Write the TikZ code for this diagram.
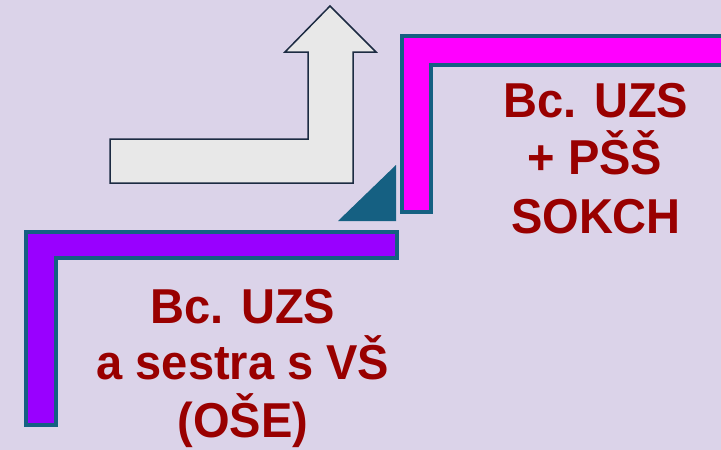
\documentclass[tikz,border=0pt]{standalone}
\usepackage{fontspec}
\setmainfont{Liberation Sans}
\definecolor{bg}{HTML}{DBD3E9}
\definecolor{edge}{HTML}{156082}
\definecolor{purp}{HTML}{9900FF}
\definecolor{mag}{HTML}{FF00FF}
\definecolor{txt}{HTML}{990000}
\definecolor{arrfill}{HTML}{E8E8E8}
\definecolor{arredge}{HTML}{1C2B42}
\newcommand{\narrowtxt}[1]{\scalebox{0.96}[1]{#1}}
\begin{document}
\begin{tikzpicture}[x=1pt,y=-1pt,
  stairbar/.style={draw=edge,line width=4pt,line join=miter},
  label/.style={anchor=base,inner sep=0pt,text=txt,font=\bfseries\fontsize{49}{58}\selectfont}]
\fill[bg] (0,0) rectangle (721,450);
\useasboundingbox (0,0) rectangle (721,450);
% purple step
\draw[stairbar,fill=purp] (26,232) -- (397,232) -- (397,258) -- (56,258) -- (56,425) -- (26,425) -- cycle;
% magenta step
\draw[stairbar,fill=mag] (402,36) -- (735,36) -- (735,65) -- (431,65) -- (431,212) -- (402,212) -- cycle;
% triangle
\fill[edge] (338,221) -- (396,221) -- (396,165) -- cycle;
% bent arrow
\draw[fill=arrfill,draw=arredge,line width=1.5pt,line join=miter] (110,139) -- (308,139) -- (308,52) -- (285,52) -- (330,6) -- (376,52) -- (353,52) -- (353,183) -- (110,183) -- cycle;
% texts
\node[label] (r1) at (596,117) {\narrowtxt{Bc. UZS}};
\node[label] (r2) at (595,174) {\narrowtxt{+ PŠŠ}};
\node[label] (r3) at (596,233) {\narrowtxt{SOKCH}};
\node[label] (l1) at (243,323) {\narrowtxt{Bc. UZS}};
\node[label] (l2) at (243,379) {\narrowtxt{a sestra s VŠ}};
\node[label] (l3) at (243,437) {\narrowtxt{(OŠE)}};
\end{tikzpicture}
\end{document}
